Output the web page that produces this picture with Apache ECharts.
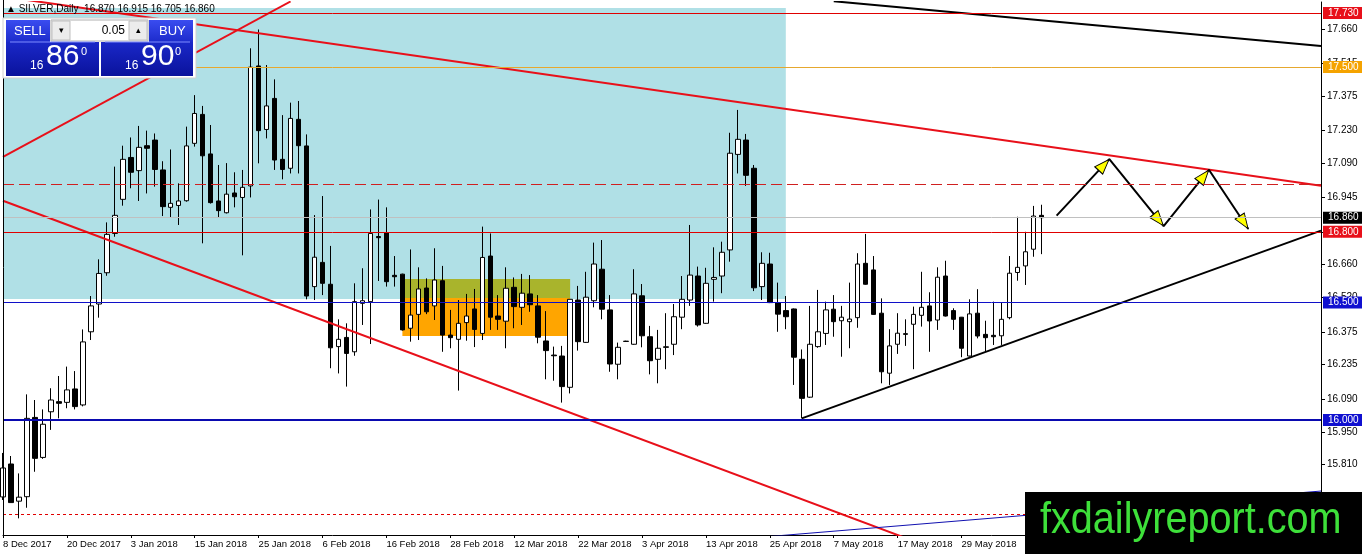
<!DOCTYPE html>
<html>
<head>
<meta charset="utf-8">
<script src="https://cdn.jsdelivr.net/npm/echarts@6/dist/echarts.min.js"></script>
<style>
html, body { margin: 0; padding: 0; background: #fff; }
#chart { width: 1362px; height: 554px; }
</style>
</head>
<body>
<div id="chart"></div>
<script>
// SILVER daily candles, 8 Dec 2017 .. 12 Jun 2018 (index = bar number)
var xLabels = ['8 Dec 2017', '20 Dec 2017', '3 Jan 2018', '15 Jan 2018', '25 Jan 2018', '6 Feb 2018',
    '16 Feb 2018', '28 Feb 2018', '12 Mar 2018', '22 Mar 2018', '3 Apr 2018', '13 Apr 2018',
    '25 Apr 2018', '7 May 2018', '17 May 2018', '29 May 2018', '8 Jun 2018'];

var opens = [15.673,15.813,15.655,15.674,16.011,15.841,16.035,16.078,16.075,16.132,
    16.064,16.375,16.493,16.626,16.793,16.938,17.116,17.060,17.166,17.190,
    17.063,16.904,16.912,16.932,17.176,17.299,17.131,16.931,16.881,16.965,
    16.946,16.995,17.505,17.235,17.367,17.108,17.070,17.278,17.165,16.567,
    16.670,16.577,16.312,16.351,16.290,16.496,16.503,16.780,16.796,16.615,
    16.620,16.390,16.449,16.561,16.485,16.592,16.361,16.343,16.414,16.472,
    16.368,16.697,16.442,16.420,16.564,16.479,16.536,16.485,16.336,16.276,
    16.272,16.139,16.510,16.330,16.507,16.641,16.468,16.237,16.335,16.322,
    16.528,16.354,16.258,16.311,16.322,16.437,16.510,16.612,16.411,16.598,
    16.612,16.723,17.129,17.190,17.070,16.567,16.663,16.499,16.465,16.472,
    16.258,16.097,16.312,16.368,16.471,16.422,16.418,16.435,16.666,16.638,
    16.454,16.199,16.322,16.367,16.407,16.445,16.485,16.425,16.612,16.465,
    16.437,16.272,16.454,16.364,16.360,16.358,16.435,16.627,16.655,16.726,
    16.870];
var highs = [15.860,15.847,15.773,16.109,16.085,16.045,16.135,16.187,16.227,16.208,
    16.385,16.527,16.683,16.840,17.077,17.166,17.201,17.250,17.230,17.218,
    17.100,17.150,17.006,17.247,17.381,17.335,17.254,17.084,17.092,17.053,
    17.063,17.580,17.660,17.509,17.448,17.296,17.349,17.356,17.214,16.871,
    16.952,16.740,16.428,16.411,16.581,16.645,16.895,16.937,16.904,16.697,
    16.622,16.725,16.649,16.602,16.730,16.655,16.468,16.510,16.536,16.557,
    16.822,16.793,16.531,16.649,16.606,16.621,16.616,16.531,16.463,16.312,
    16.315,16.513,16.570,16.630,16.754,16.765,16.531,16.329,16.337,16.641,
    16.578,16.400,16.383,16.454,16.493,16.612,16.829,16.652,16.647,16.734,
    16.758,17.221,17.318,17.216,17.084,16.713,16.711,16.584,16.527,16.474,
    16.300,16.485,16.553,16.503,16.531,16.485,16.584,16.709,16.791,16.697,
    16.517,16.386,16.454,16.428,16.482,16.630,16.543,16.649,16.677,16.475,
    16.438,16.513,16.556,16.422,16.503,16.499,16.697,16.864,16.800,16.910,
    16.915];
var lows = [15.660,15.649,15.582,15.627,15.780,15.835,15.958,16.007,16.050,16.045,
    16.058,16.340,16.435,16.613,16.779,16.911,16.985,16.931,16.963,16.992,
    16.867,16.860,16.829,16.928,17.162,16.751,16.920,16.861,16.878,16.904,
    16.700,16.946,17.091,17.197,17.063,17.023,17.048,17.048,16.513,16.510,
    16.531,16.220,16.198,16.142,16.273,16.404,16.323,16.591,16.567,16.567,
    16.380,16.333,16.340,16.450,16.425,16.290,16.305,16.125,16.337,16.310,
    16.340,16.383,16.383,16.305,16.390,16.404,16.460,16.326,16.173,16.167,
    16.074,16.113,16.295,16.328,16.479,16.428,16.205,16.173,16.332,16.320,
    16.309,16.194,16.156,16.216,16.276,16.386,16.485,16.397,16.409,16.503,
    16.539,16.673,17.048,16.995,16.548,16.510,16.497,16.375,16.386,16.149,
    16.007,16.094,16.307,16.319,16.354,16.269,16.305,16.392,16.575,16.447,
    16.156,16.149,16.281,16.315,16.216,16.397,16.290,16.383,16.440,16.383,
    16.267,16.270,16.347,16.290,16.319,16.319,16.428,16.592,16.574,16.694,
    16.705];
var closes = [15.796,15.649,15.672,16.007,15.837,15.982,16.085,16.071,16.128,16.057,
    16.332,16.485,16.623,16.789,16.870,17.108,17.053,17.159,17.155,17.065,
    16.907,16.921,16.931,17.165,17.303,17.123,16.924,16.890,16.960,16.949,
    16.989,17.500,17.230,17.335,17.105,17.065,17.282,17.166,16.527,16.692,
    16.581,16.307,16.343,16.283,16.503,16.507,16.793,16.775,16.588,16.609,
    16.383,16.446,16.557,16.460,16.595,16.361,16.350,16.411,16.442,16.385,
    16.691,16.437,16.428,16.560,16.482,16.539,16.490,16.352,16.295,16.273,
    16.142,16.513,16.333,16.522,16.663,16.471,16.238,16.309,16.334,16.536,
    16.358,16.252,16.305,16.309,16.439,16.513,16.616,16.404,16.581,16.606,
    16.713,17.134,17.193,17.040,16.562,16.666,16.499,16.450,16.439,16.267,
    16.092,16.322,16.375,16.468,16.418,16.437,16.429,16.663,16.577,16.449,
    16.205,16.315,16.369,16.364,16.449,16.479,16.421,16.607,16.442,16.428,
    16.305,16.451,16.357,16.350,16.354,16.428,16.624,16.649,16.715,16.867,
    16.860];

var yTicks = [15.665, 15.810, 15.950, 16.090, 16.235, 16.375, 16.520, 16.660,
    16.800, 16.945, 17.090, 17.230, 17.375, 17.515, 17.660];

// drawn objects: [bar index, price]
var resistLine = [[0, 17.800], [165, 16.996]];
var riseLine = [[0, 17.118], [36, 17.779]];
var supportLine = [[0, 16.932], [115, 15.473]];
var topBlackLine = [[104, 17.780], [165, 17.590]];
var bottomBlackLine = [[100, 16.007], [165, 16.805]];
var blueLine = [[96, 15.505], [165, 15.698]];
var zigzag = [[131.9, 16.869], [138.5, 17.109], [145.3, 16.8245], [150.97, 17.0635], [155.9, 16.812]];

var cyanBox = [[0, 16.514], [98, 17.751]];
var oliveBox = [[50, 16.517], [71, 16.599]];
var orangeBox = [[50, 16.357], [71, 16.5185]];

var FONT = '"Liberation Sans", Arial, sans-serif';

var candles = opens.map(function (o, i) {
    return [i, o, closes[i], lows[i], highs[i]];
});

function hLine(value, color, width, type, tag, tagBg) {
    var item = {
        yAxis: value,
        lineStyle: { color: color, width: width, type: type },
        label: { show: false }
    };
    if (tag) {
        item.label = {
            show: true, position: 'end', distance: 2, formatter: tag,
            backgroundColor: tagBg, color: '#fff', fontFamily: FONT,
            fontSize: 10, lineHeight: 11, padding: [1, 5, 0, 5]
        };
    }
    return item;
}

function trend(data, color, width) {
    return {
        type: 'line', data: data, showSymbol: false, symbol: 'none', z: 3,
        clip: true, silent: true, animation: false,
        lineStyle: { color: color, width: width }
    };
}

function blueFill(top, bottom) {
    return { type: 'linear', x: 0, y: 0, x2: 0, y2: 1,
             colorStops: [{ offset: 0, color: top }, { offset: 1, color: bottom }] };
}

var chart = echarts.init(document.getElementById('chart'));

var option = {
    animation: false,
    backgroundColor: '#fff',
    grid: { left: 3, right: 41, top: 2, bottom: 19 },
    xAxis: {
        type: 'value', min: 0, max: 165, interval: 8,
        axisLine: { show: true, onZero: false, lineStyle: { color: '#000', width: 1 } },
        axisTick: { show: true, length: 3, lineStyle: { color: '#000' } },
        splitLine: { show: false },
        axisLabel: {
            show: true, align: 'left', margin: 4, color: '#000',
            fontFamily: FONT, fontSize: 9.5, showMaxLabel: false,
            formatter: function (v) { return xLabels[Math.round(v / 8)] || ''; }
        }
    },
    yAxis: {
        type: 'value', position: 'right', min: 15.5112, max: 17.7768, scale: true,
        axisLine: { show: true, onZero: false, lineStyle: { color: '#000', width: 1 } },
        axisTick: { show: true, length: 4, customValues: yTicks, lineStyle: { color: '#000' } },
        splitLine: { show: false },
        axisLabel: {
            customValues: yTicks, margin: 6, color: '#000', fontFamily: FONT, fontSize: 10,
            formatter: function (v) { return v.toFixed(3); }
        }
    },
    series: [
        {
            type: 'line', data: [], z: 1, silent: true,
            markArea: {
                silent: true,
                data: [
                    [{ coord: cyanBox[0], itemStyle: { color: '#b0e0e6' } }, { coord: cyanBox[1] }],
                    [{ coord: oliveBox[0], itemStyle: { color: '#a9b42c' } }, { coord: oliveBox[1] }],
                    [{ coord: orangeBox[0], itemStyle: { color: '#ffa500' } }, { coord: orangeBox[1] }]
                ]
            }
        },
        {
            type: 'candlestick', data: candles, z: 2, barWidth: 5, silent: true,
            encode: { x: 0, y: [1, 2, 3, 4] },
            itemStyle: {
                color: '#ffffff', color0: '#000000',
                borderColor: '#000000', borderColor0: '#000000', borderColorDoji: '#000000',
                borderWidth: 1
            }
        },
        {
            type: 'line', data: [], z: 3, silent: true,
            markLine: {
                silent: true, symbol: ['none', 'none'], animation: false,
                data: [
                    hLine(17.73, '#e00000', 1, 'solid', '17.730', '#e8101a'),
                    hLine(17.50, '#e6a82e', 1, 'solid', '17.500', '#f5a300'),
                    hLine(17.00, '#d02020', 1, [11, 5], null),
                    hLine(16.86, '#c0c0c0', 1, 'solid', '16.860', '#000000'),
                    hLine(16.80, '#e00000', 1, 'solid', '16.800', '#e8101a'),
                    hLine(16.50, '#1010c8', 1, 'solid', '16.500', '#1010d0'),
                    hLine(16.00, '#0a0ab0', 2, 'solid', '16.000', '#1010d0'),
                    hLine(15.60, '#e00000', 1, [3, 3], null)
                ]
            }
        },
        trend(resistLine, '#e8101a', 2),
        trend(riseLine, '#e8101a', 2),
        trend(supportLine, '#e8101a', 2),
        trend(topBlackLine, '#000000', 2),
        trend(bottomBlackLine, '#000000', 2),
        trend(blueLine, '#1010b0', 1),
        trend(zigzag, '#000000', 2),
        {
            id: 'arrowHeads', type: 'scatter', data: [], z: 4, silent: true,
            symbol: 'triangle', symbolSize: [11, 15],
            itemStyle: { color: '#ffff00', borderColor: '#000', borderWidth: 1, opacity: 1 }
        }
    ],
    graphic: [
        // left frame of the chart window
        { type: 'line', z: 40, shape: { x1: 3.5, y1: 0, x2: 3.5, y2: 535 }, style: { stroke: '#000', lineWidth: 1 } },
        // header
        { type: 'text', z: 50, left: 6, top: 4,
          style: { text: '\u25B2 SILVER,Daily  16.870 16.915 16.705 16.860', fill: '#000',
                   font: '10px ' + FONT } },
        // one click trading panel
        { type: 'rect', z: 50, shape: { x: 3, y: 18, width: 193, height: 60 },
          style: { fill: '#ffffff', stroke: '#d0d0d0' } },
        { type: 'rect', z: 51, shape: { x: 6, y: 20, width: 44, height: 24 }, style: { fill: blueFill('#3a4cf0', '#1a28c8') } },
        { type: 'rect', z: 51, shape: { x: 6, y: 42, width: 93, height: 34 }, style: { fill: blueFill('#1a28c8', '#0a129c') } },
        { type: 'rect', z: 51, shape: { x: 149, y: 20, width: 44, height: 24 }, style: { fill: blueFill('#3a4cf0', '#1a28c8') } },
        { type: 'rect', z: 51, shape: { x: 101, y: 42, width: 92, height: 34 }, style: { fill: blueFill('#1a28c8', '#0a129c') } },
        { type: 'line', z: 52, shape: { x1: 10, y1: 42, x2: 95, y2: 42 }, style: { stroke: '#7f8cff', lineWidth: 1 } },
        { type: 'line', z: 52, shape: { x1: 105, y1: 42, x2: 190, y2: 42 }, style: { stroke: '#7f8cff', lineWidth: 1 } },
        { type: 'rect', z: 51, shape: { x: 51, y: 20, width: 97, height: 21 },
          style: { fill: '#ffffff', stroke: '#b0b0b0' } },
        { type: 'rect', z: 52, shape: { x: 52, y: 21, width: 18, height: 19 },
          style: { fill: '#ececec', stroke: '#c0c0c0' } },
        { type: 'rect', z: 52, shape: { x: 129, y: 21, width: 18, height: 19 },
          style: { fill: '#ececec', stroke: '#c0c0c0' } },
        { type: 'text', z: 53, x: 61, y: 31,
          style: { text: '\u25BE', fill: '#000', font: '9px ' + FONT, align: 'center', verticalAlign: 'middle' } },
        { type: 'text', z: 53, x: 138, y: 31,
          style: { text: '\u25B4', fill: '#000', font: '9px ' + FONT, align: 'center', verticalAlign: 'middle' } },
        { type: 'text', z: 53, x: 125, y: 31,
          style: { text: '0.05', fill: '#000', font: '12px ' + FONT, align: 'right', verticalAlign: 'middle' } },
        { type: 'text', z: 53, x: 14, y: 31,
          style: { text: 'SELL', fill: '#fff', font: '13px ' + FONT, verticalAlign: 'middle' } },
        { type: 'text', z: 53, x: 159, y: 31,
          style: { text: 'BUY', fill: '#fff', font: '13px ' + FONT, verticalAlign: 'middle' } },
        { type: 'text', z: 53, x: 30, y: 66,
          style: { text: '16', fill: '#fff', font: '12px ' + FONT, verticalAlign: 'middle' } },
        { type: 'text', z: 53, x: 46, y: 57,
          style: { text: '86', fill: '#fff', font: '30px ' + FONT, verticalAlign: 'middle' } },
        { type: 'text', z: 53, x: 81, y: 52,
          style: { text: '0', fill: '#fff', font: '11px ' + FONT, verticalAlign: 'middle' } },
        { type: 'text', z: 53, x: 125, y: 66,
          style: { text: '16', fill: '#fff', font: '12px ' + FONT, verticalAlign: 'middle' } },
        { type: 'text', z: 53, x: 141, y: 57,
          style: { text: '90', fill: '#fff', font: '30px ' + FONT, verticalAlign: 'middle' } },
        { type: 'text', z: 53, x: 175, y: 52,
          style: { text: '0', fill: '#fff', font: '11px ' + FONT, verticalAlign: 'middle' } },
        // watermark
        { type: 'rect', z: 60, shape: { x: 1025, y: 492, width: 337, height: 62 }, style: { fill: '#000' } },
        { type: 'text', z: 61, x: 1040, y: 521, scaleX: 0.9,
          style: { text: 'fxdailyreport.com', fill: '#3ee03a', font: '44px ' + FONT, verticalAlign: 'middle' } }
    ]
};

chart.setOption(option);

// arrow heads at the end of each zigzag leg, turned along the leg in pixel space
var px = zigzag.map(function (p) { return chart.convertToPixel({ gridIndex: 0 }, p); });
var heads = [];
for (var i = 0; i < px.length - 1; i++) {
    var a = px[i], b = px[i + 1];
    var dx = b[0] - a[0], dy = b[1] - a[1];
    var len = Math.sqrt(dx * dx + dy * dy);
    var c = [b[0] - dx / len * 8, b[1] - dy / len * 8];
    heads.push({
        value: chart.convertFromPixel({ gridIndex: 0 }, c),
        symbolRotate: Math.atan2(-dx, -dy) * 180 / Math.PI
    });
}
chart.setOption({ series: [{ id: 'arrowHeads', data: heads }] });
</script>
</body>
</html>
